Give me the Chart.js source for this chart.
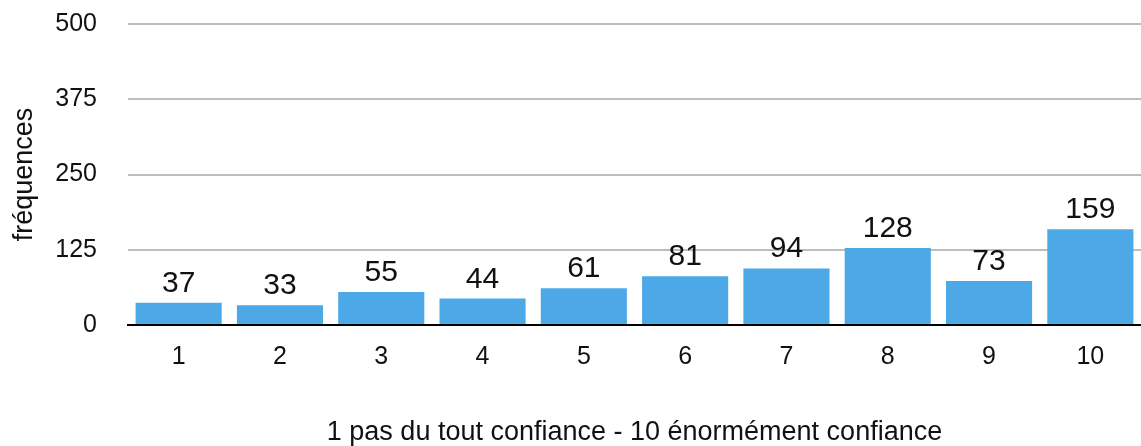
<!DOCTYPE html>
<html>
<head>
<meta charset="utf-8">
<script src="https://cdn.jsdelivr.net/npm/chart.js@4/dist/chart.umd.min.js"></script>
<style>
  html, body { margin: 0; padding: 0; background: #fff; }
  #wrap { width: 1141px; height: 446px; position: relative; }
</style>
</head>
<body>
<div id="wrap"><canvas id="chart"></canvas></div>
<script>
// données
var categories = ['1', '2', '3', '4', '5', '6', '7', '8', '9', '10'];
var frequences = [37, 33, 55, 44, 61, 81, 94, 128, 73, 159];
var yTicks = [0, 125, 250, 375, 500];

var FONT = '"Liberation Sans", Arial, Helvetica, sans-serif';

// étiquettes de valeur au-dessus des barres
var valueLabels = {
  id: 'valueLabels',
  afterDatasetsDraw: function(chart) {
    var ctx = chart.ctx;
    var meta = chart.getDatasetMeta(0);
    ctx.save();
    ctx.font = '30px ' + FONT;
    ctx.fillStyle = '#111';
    ctx.textAlign = 'center';
    ctx.textBaseline = 'alphabetic';
    meta.data.forEach(function(bar, i) {
      ctx.fillText(String(frequences[i]), bar.x, bar.y - 11);
    });
    ctx.restore();
  }
};

new Chart(document.getElementById('chart'), {
  type: 'bar',
  data: {
    labels: categories,
    datasets: [{
      data: frequences,
      backgroundColor: '#4ca8e6',
      borderWidth: 0,
      categoryPercentage: 1,
      barPercentage: 0.85
    }]
  },
  options: {
    responsive: true,
    maintainAspectRatio: false,
    animation: false,
    layout: { padding: 0 },
    plugins: {
      legend: { display: false },
      tooltip: { enabled: false }
    },
    scales: {
      x: {
        grid: { display: false, drawTicks: false },
        border: { display: true, color: '#000', width: 2 },
        ticks: { font: { family: FONT, size: 25 }, color: '#111', padding: 17 },
        title: {
          display: true,
          text: '1 pas du tout confiance - 10 énormément confiance',
          font: { family: FONT, size: 27, lineHeight: 1 },
          color: '#111',
          padding: { top: 0, bottom: 0 }
        },
        afterFit: function(scale) { scale.height = 121; }
      },
      y: {
        min: 0,
        max: 500,
        afterBuildTicks: function(scale) {
          scale.ticks = yTicks.map(function(v) { return { value: v }; });
        },
        grid: { color: '#bdbdbd', lineWidth: 2, drawTicks: false },
        border: { display: false },
        ticks: { font: { family: FONT, size: 25 }, color: '#111', padding: 31 },
        title: {
          display: true,
          text: 'fréquences',
          font: { family: FONT, size: 27 },
          color: '#111',
          padding: { top: 8, bottom: 0 }
        },
        afterFit: function(scale) {
          scale.width = 128;
          scale.paddingTop = 24;
          scale.paddingBottom = 12;
        }
      }
    }
  },
  plugins: [valueLabels]
});
</script>
</body>
</html>
